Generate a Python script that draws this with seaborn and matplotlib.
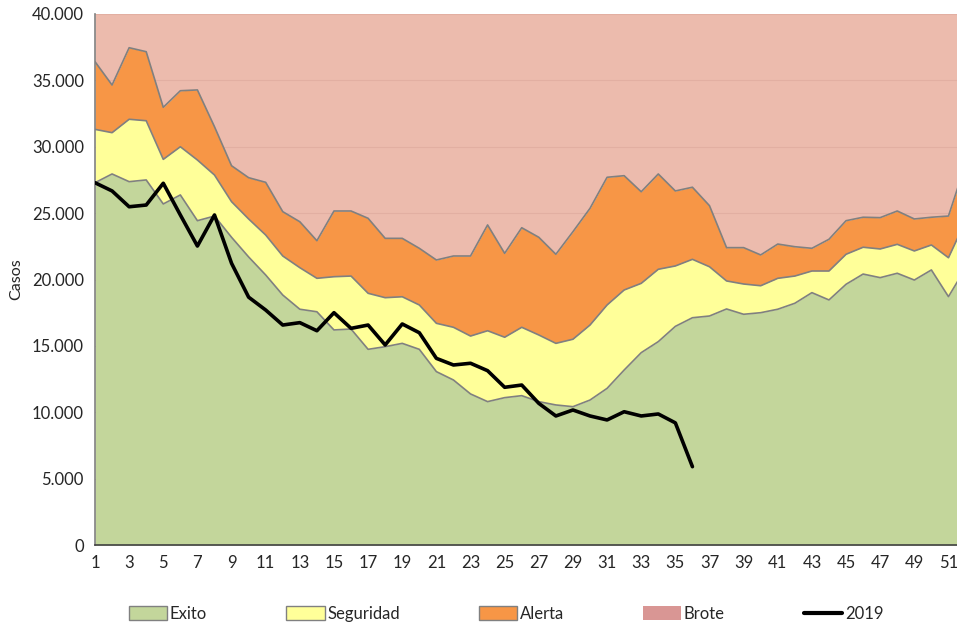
import numpy as np
import pandas as pd
import seaborn as sns
from matplotlib import pyplot as plt
from matplotlib.patches import Patch
from matplotlib.lines import Line2D

semanas = list(range(1, 53))

# limites superiores acumulados de cada zona (semana 1..52)
exito = [27290, 27950, 27370, 27500, 25690, 26370, 24430, 24780, 23180, 21700,
         20340, 18830, 17760, 17570, 16200, 16270, 14740, 14940, 15190, 14740,
         13060, 12430, 11380, 10800, 11100, 11250, 10800, 10550, 10420, 10920,
         11800, 13180, 14490, 15320, 16470, 17120, 17250, 17780, 17380, 17500,
         17760, 18210, 19010, 18460, 19640, 20410, 20140, 20470, 19960, 20720,
         18710, 20850]
seguridad = [31310, 31060, 32070, 31960, 29050, 30000, 29000, 27870, 25860, 24560,
             23350, 21770, 20890, 20090, 20210, 20260, 18960, 18630, 18700, 18080,
             16700, 16400, 15740, 16140, 15650, 16400, 15820, 15190, 15500, 16570,
             18080, 19210, 19710, 20770, 21020, 21520, 20960, 19890, 19660, 19530,
             20090, 20260, 20640, 20640, 21900, 22430, 22300, 22650, 22150, 22600,
             21640, 24400]
alerta = [36410, 34650, 37460, 37160, 32970, 34220, 34280, 31510, 28570, 27670,
          27320, 25110, 24350, 22920, 25160, 25160, 24610, 23100, 23100, 22350,
          21470, 21770, 21770, 24110, 21970, 23900, 23180, 21900, 23600, 25360,
          27700, 27820, 26610, 27950, 26670, 26950, 25560, 22400, 22400, 21850,
          22670, 22470, 22350, 23030, 24430, 24690, 24660, 25160, 24560, 24690,
          24780, 28700]
brote = [40000] * 52

semanas_2019 = list(range(1, 37))
casos_2019 = [27290, 26670, 25480, 25610, 27250, 24860, 22520, 24860, 21220, 18670,
              17700, 16570, 16750, 16140, 17500, 16320, 16570, 15070, 16650, 15990,
              14060, 13560, 13690, 13130, 11880, 12050, 10670, 9720, 10170, 9720,
              9420, 10040, 9720, 9870, 9200, 5900]

df = pd.DataFrame({'semana': semanas, 'Exito': exito, 'Seguridad': seguridad,
                   'Alerta': alerta, 'Brote': brote})
df19 = pd.DataFrame({'semana': semanas_2019, 'casos': casos_2019})

c_exito = '#C3D69B'
c_seg = '#FFFF99'
c_alerta = '#F79646'
c_brote_area = '#ECBBAD'
c_brote_leg = '#D99694'
c_borde = '#808080'

sns.set_style('white')
plt.rcParams['font.family'] = ['Lato', 'DejaVu Sans']

fig = plt.figure(figsize=(9.57, 6.26), dpi=100)
ax = fig.add_axes([95 / 957, 1 - 545 / 626, 1 - 95 / 957, (545 - 14) / 626])

x = df['semana']
ax.fill_between(x, df['Alerta'], df['Brote'], color=c_brote_area, lw=0, zorder=1)
for yv in range(5000, 40001, 5000):
    ax.axhline(yv, color='#E2AFA2', lw=0.8, zorder=1.5)
ax.fill_between(x, df['Seguridad'], df['Alerta'], color=c_alerta, lw=0, zorder=2)
ax.fill_between(x, df['Exito'], df['Seguridad'], color=c_seg, lw=0, zorder=2)
ax.fill_between(x, 0, df['Exito'], color=c_exito, lw=0, zorder=2)
for col in ['Exito', 'Seguridad', 'Alerta']:
    ax.plot(x, df[col], color=c_borde, lw=1.2, zorder=3)

sns.lineplot(x='semana', y='casos', data=df19, color='black', lw=2.6, ax=ax, zorder=4)

ax.set_xticks(range(1, 52, 2))
ax.set_xticks(range(1, 52), minor=True)
ax.set_yticks(range(0, 40001, 5000))
ax.set_yticklabels(['0'] + [f'{v // 1000}.000' for v in range(5000, 40001, 5000)])
ax.set_xlim(1, 51.5)
ax.set_ylim(0, 40000)
ax.tick_params(axis='x', which='both', direction='inout', length=9, width=1, color='black',
               labelsize=12, pad=3)
ax.tick_params(axis='y', direction='out', length=5, width=1, color='#404040', labelsize=12, pad=3)
for s in ['top', 'right']:
    ax.spines[s].set_visible(False)
ax.spines['left'].set_color('#808080')
ax.spines['left'].set_linewidth(1.2)
ax.spines['bottom'].set_color('#404040')
ax.spines['bottom'].set_linewidth(1.2)
ax.set_xlabel('')
ax.set_ylabel('Casos', fontsize=11.5, labelpad=6)

handles = [Patch(fc=c_exito, ec=c_borde, lw=1),
           Patch(fc=c_seg, ec=c_borde, lw=1),
           Patch(fc=c_alerta, ec=c_borde, lw=1),
           Patch(fc=c_brote_leg, ec='none'),
           Line2D([0], [0], color='black', lw=3)]
fig.legend(handles, ['Exito', 'Seguridad', 'Alerta', 'Brote', '2019'], loc='center',
           bbox_to_anchor=(0.529, 1 - 614 / 626), ncol=5, frameon=False, fontsize=12,
           handlelength=2.3, handleheight=0.9, handletextpad=0.15, columnspacing=4.75)

plt.savefig('out.png', dpi=100)
